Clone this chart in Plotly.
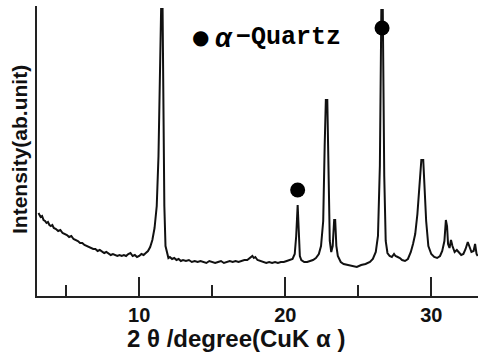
import plotly.graph_objects as go

# XRD pattern: 2θ (degrees, CuKα) and intensity (arbitrary units)
two_theta = [
    3.10, 3.15, 3.25, 3.35, 3.45, 3.55, 3.65, 3.75, 3.85, 3.95, 4.05, 4.15, 4.30, 4.45,
    4.60, 4.75, 4.90, 5.05, 5.20, 5.35, 5.50, 5.65, 5.80, 5.95, 6.10, 6.25, 6.40, 6.55,
    6.70, 6.85, 7.00, 7.15, 7.30, 7.45, 7.60, 7.75, 7.90, 8.05, 8.20, 8.35, 8.50, 8.65,
    8.80, 8.95, 9.10, 9.25, 9.40, 9.55, 9.70, 9.85, 10.00, 10.15, 10.30, 10.45, 10.60,
    10.75, 10.90, 11.05, 11.20, 11.32, 11.42, 11.50, 11.60, 11.66, 11.72, 11.80, 11.90,
    12.00, 12.10, 12.25, 12.40, 12.55, 12.70, 12.85, 13.00, 13.20, 13.40, 13.60, 13.80,
    14.00, 14.20, 14.40, 14.60, 14.80, 15.00, 15.20, 15.40, 15.60, 15.80, 16.00, 16.20,
    16.40, 16.60, 16.80, 17.00, 17.20, 17.40, 17.60, 17.75, 17.85, 17.95, 18.10, 18.30,
    18.50, 18.70, 18.90, 19.10, 19.30, 19.50, 19.70, 19.90, 20.10, 20.30, 20.50, 20.65,
    20.75, 20.85, 20.92, 21.00, 21.10, 21.30, 21.50, 21.70, 21.90, 22.10, 22.30, 22.45,
    22.60, 22.70, 22.78, 22.88, 22.95, 23.05, 23.15, 23.25, 23.35, 23.42, 23.50, 23.60,
    23.80, 24.00, 24.30, 24.60, 24.90, 25.20, 25.50, 25.80, 26.00, 26.20, 26.35, 26.48,
    26.58, 26.68, 26.78, 26.88, 27.00, 27.15, 27.30, 27.45, 27.55, 27.70, 27.85, 28.00,
    28.20, 28.40, 28.60, 28.75, 28.90, 29.05, 29.20, 29.32, 29.45, 29.55, 29.65, 29.80,
    30.00, 30.20, 30.40, 30.60, 30.75, 30.90, 31.00, 31.08, 31.15, 31.25, 31.35, 31.45,
    31.60, 31.75, 31.90, 32.05, 32.20, 32.35, 32.50, 32.60, 32.75, 32.90, 33.00, 33.10,
    33.18,
]
intensity = [
    83, 82, 79, 80, 76, 75, 73, 74, 71, 70, 71, 68, 67, 65,
    66, 63, 62, 61, 59, 60, 57, 56, 55, 53, 53, 51, 50, 49,
    48, 47, 47, 45, 46, 44, 43, 44, 42, 41, 42, 41, 40, 41,
    40, 41, 40, 42, 43, 40, 41, 39, 40, 42, 41, 43, 45,
    49, 56, 68, 90, 140, 220, 287, 287, 200, 90, 50, 42,
    38, 39, 37, 38, 36, 37, 35, 36, 35, 36, 34, 35,
    34, 35, 34, 33, 35, 34, 33, 34, 35, 33, 34, 35,
    34, 35, 34, 35, 36, 36, 38, 40, 38, 39, 36, 35,
    34, 33, 34, 33, 34, 33, 34, 34, 35, 36, 37, 42,
    60, 91, 60, 40, 36, 34, 34, 35, 36, 38, 42, 50,
    75, 150, 196, 196, 120, 55, 44, 50, 76, 76, 50, 40,
    34, 32, 31, 30, 29, 31, 32, 34, 37, 44, 60, 130,
    286, 286, 120, 55, 43, 40, 39, 42, 40, 39, 38, 36,
    35, 37, 44, 52, 62, 82, 112, 136, 136, 110, 75, 50,
    42, 39, 38, 40, 45, 55, 76, 70, 52, 48, 56, 50,
    44, 46, 44, 41, 42, 47, 54, 50, 44, 45, 52, 42,
    40,
]

# α-quartz reflections marked with a dot above the peak
quartz_peaks = [20.85, 26.63]
quartz_heights = [106, 268]

x_ticks = [10, 20, 30]
x_minor_ticks = [5, 15, 25]

INK = "#111111"

fig = go.Figure()
fig.add_trace(go.Scatter(
    x=two_theta, y=intensity, mode="lines",
    line=dict(color=INK, width=2), hoverinfo="skip",
))
fig.add_trace(go.Scatter(
    x=quartz_peaks, y=quartz_heights, mode="markers",
    marker=dict(color="#000000", size=15, line=dict(width=0)), hoverinfo="skip",
))

fig.update_layout(
    width=480, height=356,
    margin=dict(l=37, r=2, t=6, b=60),
    paper_bgcolor="white", plot_bgcolor="white",
    showlegend=False,
    xaxis=dict(
        range=[3, 33.2], showgrid=False, zeroline=False,
        showline=True, linecolor="#222222", linewidth=2,
        ticks="inside", ticklen=19, tickwidth=2, tickcolor="#222222",
        tickvals=x_ticks, ticktext=[str(v) for v in x_ticks],
        tickfont=dict(family="Liberation Sans, Arial", size=20, color=INK, weight="bold"),
        minor=dict(tickvals=x_minor_ticks, ticks="inside", ticklen=11,
                   tickwidth=2, tickcolor="#222222", showgrid=False),
    ),
    yaxis=dict(
        range=[0, 290], showgrid=False, zeroline=False,
        showline=True, linecolor="#222222", linewidth=2,
        showticklabels=False, ticks="",
    ),
)

# axis titles
fig.add_annotation(
    text="<b>2 θ /degree(CuK α )</b>", xref="paper", yref="paper",
    x=(236 - 37) / 441, y=(296 - 338) / 290, showarrow=False,
    xanchor="center", yanchor="middle",
    font=dict(family="Liberation Sans, Arial", size=24, color=INK),
)
fig.add_annotation(
    text="<b>Intensity(ab.unit)</b>", xref="paper", yref="paper",
    x=(19 - 37) / 441, y=(296 - 150) / 290, showarrow=False, textangle=-90,
    xanchor="center", yanchor="middle",
    font=dict(family="Liberation Sans, Arial", size=21, color=INK),
)

# key for the quartz markers
fig.add_annotation(
    text="●", xref="paper", yref="paper",
    x=(200 - 37) / 441, y=(296 - 37) / 290, showarrow=False,
    xanchor="center", yanchor="middle",
    font=dict(family="DejaVu Sans", size=20, color="#000000"),
)
fig.add_annotation(
    text="<b><i>α</i></b>", xref="paper", yref="paper",
    x=(224 - 37) / 441, y=(296 - 38) / 290, showarrow=False,
    xanchor="center", yanchor="middle",
    font=dict(family="Liberation Sans, Arial", size=27, color="#000000"),
)
fig.add_annotation(
    text="<b>−Quartz</b>", xref="paper", yref="paper",
    x=(234 - 37) / 441, y=(296 - 37) / 290, showarrow=False,
    xanchor="left", yanchor="middle",
    font=dict(family="Liberation Mono, Courier New", size=25, color="#000000"),
)

fig.write_html("out.html")
